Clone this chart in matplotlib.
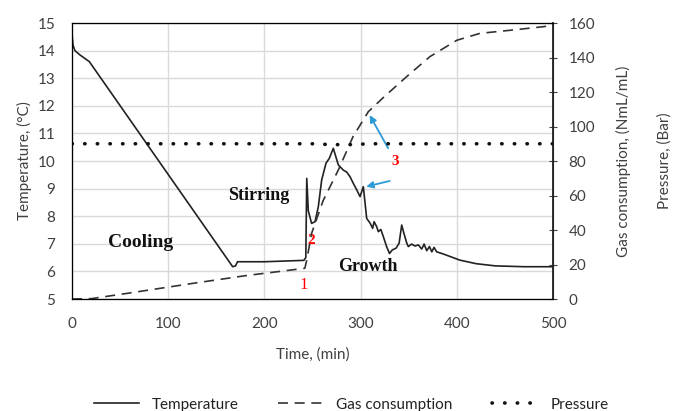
import matplotlib
matplotlib.use("Agg")
import matplotlib.pyplot as plt

plt.rcParams["font.family"] = ["Lato", "DejaVu Sans"]

# Temperature (degC) vs time (min)
temp_t = [0, 1, 3, 8, 18, 167, 170, 172, 200, 241, 243, 244, 245.6, 249, 252.6,
          256, 259.5, 264, 267.5, 271.6, 276.8, 282, 285.5, 289, 292.4, 296, 299.4,
          302.8, 306.3, 310, 312.5, 314, 316.7, 318.4, 321, 323.6, 327, 330, 333,
          336.8, 340, 342.7, 345, 348, 349.6, 353, 356.5, 360, 363.5, 366, 368.7,
          371.5, 374, 376.3, 379, 386, 403, 420, 440, 470, 500]
temp_v = [14.6, 14.2, 14.0, 13.85, 13.6, 6.17, 6.2, 6.35, 6.35, 6.4, 6.5, 9.37, 8.2, 7.74, 7.8,
          8.34, 9.31, 9.92, 10.1, 10.46, 9.86, 9.67, 9.6, 9.43, 9.19, 8.95, 8.71,
          9.07, 7.92, 7.74, 7.56, 7.8, 7.62, 7.44, 7.52, 7.26, 6.9, 6.65, 6.78,
          6.84, 7.02, 7.68, 7.38, 7.02, 6.9, 6.99, 6.92, 6.96, 6.81, 6.99, 6.75,
          6.9, 6.71, 6.87, 6.71, 6.63, 6.41, 6.28, 6.2, 6.17, 6.17]

# Gas consumption (NmL/mL)
gas_t = [0, 20, 60, 126, 180, 242, 244, 249, 261, 277, 292, 308, 324, 348,
         372, 400, 424, 459, 500]
gas_v = [0, 0.2, 3.5, 9.1, 13.5, 17.8, 22.6, 38, 57, 75, 94, 108.6, 117, 129,
         140.5, 150, 154, 156, 158.5]

# Pressure (Bar)
pres_t = [0, 250, 270, 290, 310, 500]
pres_v = [9.0, 9.0, 8.95, 8.95, 9.0, 9.0]

fig = plt.figure(figsize=(6.75, 4.11), dpi=100)
ax = fig.add_axes([0.1067, 0.2725, 0.7126, 0.6715])
ax2 = ax.twinx()
ax3 = ax.twinx()

ax.grid(True, color="#d9d9d9", linewidth=1)
ax.set_axisbelow(True)
l1, = ax.plot(temp_t, temp_v, color="#222222", linewidth=1.2, label="Temperature")
ax.set_xlim(0, 500)
ax.set_ylim(5, 15)
ax.set_yticks(range(5, 16))
ax.set_xticks(range(0, 501, 100))
ax.tick_params(axis="x", length=0, labelsize=11, colors="#404040", pad=13)
ax.tick_params(axis="y", length=0, labelsize=11, colors="#404040", pad=12)
ax.set_ylabel("Temperature, (\u00b0C)", fontsize=11, color="#404040", labelpad=4)
ax.set_xlabel("Time, (min)", fontsize=11, color="#404040", labelpad=12)
for s in ax.spines.values():
    s.set_color("#404040")

l2, = ax2.plot(gas_t, gas_v, color="#333333", linewidth=1.2, dashes=(6, 4),
               label="Gas consumption")
ax2.set_ylim(0, 160)
ax2.set_yticks(range(0, 161, 20))
ax2.tick_params(direction="inout", length=6, labelsize=11, colors="#404040", pad=8)
ax2.set_ylabel("Gas consumption, (NmL/mL)", fontsize=11, color="#404040", labelpad=15)
ax2.spines["right"].set_color("#222222")
ax2.spines["right"].set_linewidth(1.3)

l3, = ax3.plot(pres_t, pres_v, color="#111111", linewidth=2.6, linestyle=(0, (0.1, 3.4)),
               dash_capstyle="round", label="Pressure")
ax3.set_ylim(0, 16)
ax3.set_yticks([])
ax3.spines["right"].set_visible(False)
ax3.set_ylabel("Pressure, (Bar)", fontsize=11, color="#404040", labelpad=75)

# Text annotations
serif = dict(family="Liberation Serif", fontweight="bold", color="#111111")
ax.text(37, 6.9, "Cooling", fontsize=14, **serif)
ax.text(162, 8.6, "Stirring", fontsize=13, **serif)
ax.text(277, 6.0, "Growth", fontsize=13, **serif)
red = dict(family="Liberation Serif", color="red")
ax.text(236, 5.35, "1", fontsize=12, **red)
ax.text(245, 7.0, "2", fontsize=11, fontweight="bold", **red)
ax.text(332, 9.85, "3", fontsize=11, fontweight="bold", **red)
ax.annotate("", xy=(303, 9.05), xytext=(333, 9.3),
            arrowprops=dict(arrowstyle="-|>", color="#2e9ad6", lw=1.3))
ax2.annotate("", xy=(308, 108), xytext=(330, 86),
             arrowprops=dict(arrowstyle="-|>", color="#2e9ad6", lw=1.3))

fig.legend(handles=[l1, l2, l3], loc="lower center", ncol=3, frameon=False,
           bbox_to_anchor=(0.52, -0.035), fontsize=11, handlelength=3.0,
           columnspacing=2.6, labelcolor="#222222")

fig.savefig("out.png", dpi=100)
